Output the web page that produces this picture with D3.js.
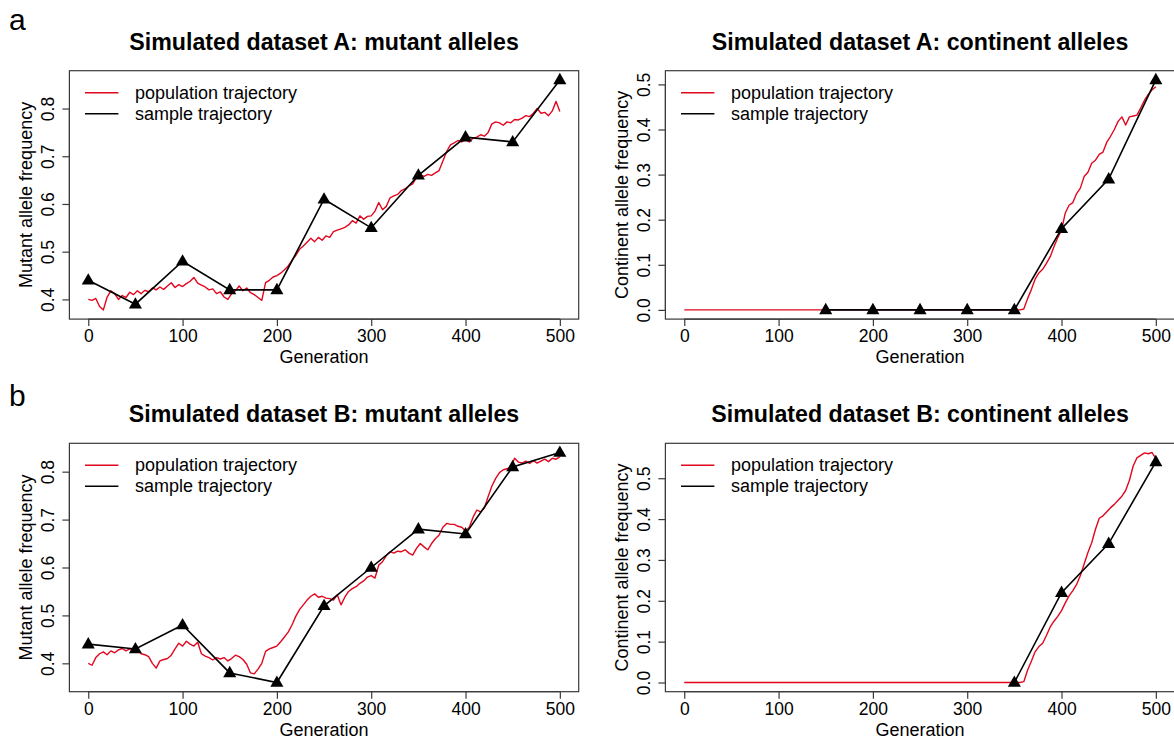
<!DOCTYPE html>
<html>
<head>
<meta charset="utf-8">
<script src="https://cdn.jsdelivr.net/npm/d3@7"></script>
<style>
  html, body { margin: 0; padding: 0; background: #fff; }
  svg { display: block; font-family: "Liberation Sans", Arial, Helvetica, sans-serif; }
</style>
</head>
<body>
<svg id="fig" width="1174" height="740"></svg>
<script>
// ---- Data -----------------------------------------------------------------
// Population trajectories of the mutant allele, every 4 generations (0..500)
const mutantGens = d3.range(0, 501, 4);
const popMutantA = [
  0.400, 0.398, 0.402, 0.385, 0.378, 0.405, 0.418, 0.412, 0.400, 0.408,
  0.404, 0.415, 0.410, 0.418, 0.412, 0.419, 0.416, 0.424, 0.420, 0.426,
  0.421, 0.428, 0.435, 0.425, 0.431, 0.427, 0.433, 0.438, 0.446, 0.434,
  0.430, 0.426, 0.420, 0.422, 0.412, 0.416, 0.405, 0.400, 0.412, 0.418,
  0.428, 0.418, 0.424, 0.414, 0.410, 0.404, 0.398, 0.435, 0.440, 0.447,
  0.450, 0.455, 0.462, 0.470, 0.482, 0.492, 0.505, 0.512, 0.520, 0.528,
  0.521, 0.530, 0.524, 0.533, 0.530, 0.542, 0.545, 0.548, 0.551, 0.556,
  0.565, 0.560, 0.575, 0.568, 0.574, 0.575, 0.585, 0.603, 0.588, 0.595,
  0.613, 0.617, 0.620, 0.628, 0.632, 0.638, 0.642, 0.655, 0.660, 0.658,
  0.662, 0.660, 0.665, 0.670, 0.690, 0.710, 0.724, 0.728, 0.733, 0.730,
  0.735, 0.730, 0.738, 0.740, 0.745, 0.742, 0.750, 0.768, 0.772, 0.770,
  0.765, 0.772, 0.770, 0.777, 0.776, 0.780, 0.785, 0.783, 0.790, 0.800,
  0.790, 0.792, 0.785, 0.795, 0.815, 0.794
];
const popMutantB = [
  0.400, 0.396, 0.412, 0.420, 0.424, 0.418, 0.426, 0.422, 0.428, 0.431,
  0.426, 0.430, 0.427, 0.428, 0.420, 0.418, 0.414, 0.400, 0.390, 0.405,
  0.408, 0.410, 0.417, 0.430, 0.442, 0.436, 0.446, 0.440, 0.436, 0.444,
  0.420, 0.415, 0.412, 0.407, 0.412, 0.409, 0.412, 0.405, 0.410, 0.417,
  0.414, 0.408, 0.398, 0.380, 0.378, 0.388, 0.400, 0.425, 0.430, 0.433,
  0.436, 0.445, 0.455, 0.465, 0.480, 0.498, 0.512, 0.522, 0.532, 0.540,
  0.545, 0.538, 0.540, 0.536, 0.535, 0.532, 0.543, 0.522, 0.538, 0.550,
  0.556, 0.560, 0.567, 0.572, 0.580, 0.583, 0.578, 0.605, 0.612, 0.625,
  0.633, 0.630, 0.634, 0.633, 0.637, 0.630, 0.626, 0.640, 0.650, 0.643,
  0.637, 0.650, 0.660, 0.668, 0.684, 0.692, 0.690, 0.690, 0.686, 0.684,
  0.676, 0.684, 0.705, 0.720, 0.716, 0.724, 0.748, 0.770, 0.786, 0.798,
  0.804, 0.806, 0.808, 0.828, 0.820, 0.818, 0.822, 0.817, 0.823, 0.818,
  0.822, 0.826, 0.821, 0.828, 0.826, 0.831
];

// Population trajectories of the continent allele (zero until ~gen 356)
const continentGens = [0, 356, 360, 364, 368, 372, 376, 380, 384, 388, 392, 396,
  400, 404, 408, 412, 416, 420, 424, 428, 432, 436, 440, 444, 448, 452, 456,
  460, 464, 468, 472, 476, 480, 484, 488, 492, 496, 500];
const popContinentA = [0, 0, 0.002, 0.025, 0.045, 0.068, 0.082, 0.090, 0.103,
  0.118, 0.140, 0.160, 0.177, 0.215, 0.232, 0.238, 0.258, 0.270, 0.296, 0.305,
  0.325, 0.332, 0.345, 0.350, 0.372, 0.385, 0.400, 0.418, 0.428, 0.410, 0.428,
  0.430, 0.432, 0.448, 0.465, 0.478, 0.488, 0.495];
const popContinentB = [0, 0, 0.002, 0.030, 0.052, 0.075, 0.088, 0.096, 0.115,
  0.136, 0.150, 0.162, 0.176, 0.195, 0.212, 0.225, 0.240, 0.262, 0.290, 0.318,
  0.342, 0.375, 0.402, 0.408, 0.418, 0.428, 0.436, 0.446, 0.456, 0.470, 0.495,
  0.530, 0.550, 0.556, 0.562, 0.560, 0.563, 0.548];

// Sample trajectories
const sampleGensMutant = [0, 50, 100, 150, 200, 250, 300, 350, 400, 450, 500];
const sampleMutantA = [0.44, 0.39, 0.48, 0.42, 0.42, 0.61, 0.55, 0.66, 0.74, 0.73, 0.86];
const sampleMutantB = [0.44, 0.43, 0.48, 0.38, 0.36, 0.52, 0.60, 0.68, 0.67, 0.81, 0.84];
const sampleGensContinentA = [150, 200, 250, 300, 350, 400, 450, 500];
const sampleContinentA = [0, 0, 0, 0, 0, 0.18, 0.29, 0.51];
const sampleGensContinentB = [350, 400, 450, 500];
const sampleContinentB = [0, 0.22, 0.34, 0.54];

// Axis ticks
const xTicks = [0, 100, 200, 300, 400, 500];
const mutantTicks = [0.4, 0.5, 0.6, 0.7, 0.8];
const continentTicks = [0.0, 0.1, 0.2, 0.3, 0.4, 0.5];

const titles = [
  "Simulated dataset A: mutant alleles",
  "Simulated dataset A: continent alleles",
  "Simulated dataset B: mutant alleles",
  "Simulated dataset B: continent alleles"
];
const yLabels = ["Mutant allele frequency", "Continent allele frequency"];
const legendLabels = ["population trajectory", "sample trajectory"];
const rowLetters = ["a", "b"];

// ---- Drawing --------------------------------------------------------------
const RED = "#e2061f";
const AXIS = "#3a3a3a";
const svg = d3.select("#fig");

const colLeft = [69.4, 665.4];
const plotW = 509.3;
const rowTop = [70.7, 443.3];
const plotH = 248.4;

const panels = [
  { title: titles[0], ylab: yLabels[0], col: 0, row: 0, popX: mutantGens, popY: popMutantA,
    sX: sampleGensMutant, sY: sampleMutantA, ticks: mutantTicks },
  { title: titles[1], ylab: yLabels[1], col: 1, row: 0, popX: continentGens, popY: popContinentA,
    sX: sampleGensContinentA, sY: sampleContinentA, ticks: continentTicks },
  { title: titles[2], ylab: yLabels[0], col: 0, row: 1, popX: mutantGens, popY: popMutantB,
    sX: sampleGensMutant, sY: sampleMutantB, ticks: mutantTicks },
  { title: titles[3], ylab: yLabels[1], col: 1, row: 1, popX: continentGens, popY: popContinentB,
    sX: sampleGensContinentB, sY: sampleContinentB, ticks: continentTicks }
];

// Extend a range by 4% on each side, like base-R plotting defaults
function padded(lo, hi) {
  const d = (hi - lo) * 0.04;
  return [lo - d, hi + d];
}

panels.forEach(p => {
  const left = colLeft[p.col], top = rowTop[p.row];
  const g = svg.append("g").attr("transform", `translate(${left},${top})`);

  const x = d3.scaleLinear().domain(padded(0, 500)).range([0, plotW]);
  const allY = p.popY.concat(p.sY);
  const y = d3.scaleLinear().domain(padded(d3.min(allY), d3.max(allY))).range([plotH, 0]);

  // Clip lines to the plotting region
  const clipId = `clip-${p.col}-${p.row}`;
  g.append("clipPath").attr("id", clipId)
    .append("rect").attr("width", plotW).attr("height", plotH);

  // Population trajectory
  const pop = p.popX.map((gen, i) => [gen, p.popY[i]]);
  g.append("path")
    .datum(pop)
    .attr("clip-path", `url(#${clipId})`)
    .attr("fill", "none")
    .attr("stroke", RED)
    .attr("stroke-width", 1.4)
    .attr("stroke-linejoin", "round")
    .attr("d", d3.line().x(d => x(d[0])).y(d => y(d[1])));

  // Sample trajectory
  const smp = p.sX.map((gen, i) => [gen, p.sY[i]]);
  g.append("path")
    .datum(smp)
    .attr("fill", "none")
    .attr("stroke", "#000")
    .attr("stroke-width", 1.6)
    .attr("d", d3.line().x(d => x(d[0])).y(d => y(d[1])));

  g.selectAll("path.tri")
    .data(smp)
    .join("path")
    .attr("class", "tri")
    .attr("transform", d => `translate(${x(d[0])},${y(d[1]) + 0.5})`)
    .attr("d", d3.symbol(d3.symbolTriangle, 74))
    .attr("fill", "#000");

  // Box
  g.append("rect")
    .attr("x", 0).attr("y", 0)
    .attr("width", plotW).attr("height", plotH)
    .attr("fill", "none")
    .attr("stroke", AXIS)
    .attr("stroke-width", 1.2);

  // X axis
  const xAxis = g.append("g")
    .attr("transform", `translate(0,${plotH})`)
    .call(d3.axisBottom(x).tickValues(xTicks).tickSize(7).tickPadding(5).tickFormat(d3.format("d")));
  xAxis.select(".domain").attr("stroke", AXIS).attr("stroke-width", 1.2)
    .attr("d", `M${x(xTicks[0])},0H${x(xTicks[xTicks.length - 1])}`);
  xAxis.selectAll(".tick line").attr("stroke", AXIS).attr("stroke-width", 1.2);
  xAxis.selectAll(".tick text")
    .attr("font-size", 17.5).attr("fill", "#000")
    .attr("font-family", "Liberation Sans, Arial, sans-serif")
    .attr("dy", null).attr("y", 23.3);

  // Y axis
  const yAxis = g.append("g")
    .call(d3.axisLeft(y).tickValues(p.ticks).tickSize(7).tickFormat(d3.format(".1f")));
  yAxis.select(".domain").attr("stroke", AXIS).attr("stroke-width", 1.2)
    .attr("d", `M0,${y(p.ticks[0])}V${y(p.ticks[p.ticks.length - 1])}`);
  yAxis.selectAll(".tick line").attr("stroke", AXIS).attr("stroke-width", 1.2);
  yAxis.selectAll(".tick text")
    .attr("font-size", 17.5).attr("fill", "#000")
    .attr("font-family", "Liberation Sans, Arial, sans-serif")
    .attr("x", null).attr("dy", null)
    .attr("text-anchor", "middle")
    .attr("transform", "translate(-15.5,0) rotate(-90)");

  // Axis titles
  g.append("text")
    .attr("x", x(250)).attr("y", plotH + 44)
    .attr("text-anchor", "middle")
    .attr("font-size", 18)
    .text("Generation");
  g.append("text")
    .attr("transform", `translate(-37.5,${plotH / 2}) rotate(-90)`)
    .attr("text-anchor", "middle")
    .attr("font-size", 18)
    .text(p.ylab);

  // Panel title
  g.append("text")
    .attr("x", plotW / 2).attr("y", -21)
    .attr("text-anchor", "middle")
    .attr("font-size", 23.2)
    .attr("font-weight", "bold")
    .text(p.title);

  // Legend
  const legColors = [RED, "#000"];
  const legY = [22, 43];
  legendLabels.forEach((lab, i) => {
    g.append("line")
      .attr("x1", 15.6).attr("x2", 49)
      .attr("y1", legY[i]).attr("y2", legY[i])
      .attr("stroke", legColors[i]).attr("stroke-width", 1.5);
    g.append("text")
      .attr("x", 65.6).attr("y", legY[i])
      .attr("dominant-baseline", "central")
      .attr("font-size", 18)
      .text(lab);
  });
});

// Row letters
svg.selectAll("text.rowletter")
  .data(rowLetters)
  .join("text")
  .attr("class", "rowletter")
  .attr("x", 9)
  .attr("y", (d, i) => [30, 406][i])
  .attr("font-size", 30)
  .text(d => d);
</script>
</body>
</html>
